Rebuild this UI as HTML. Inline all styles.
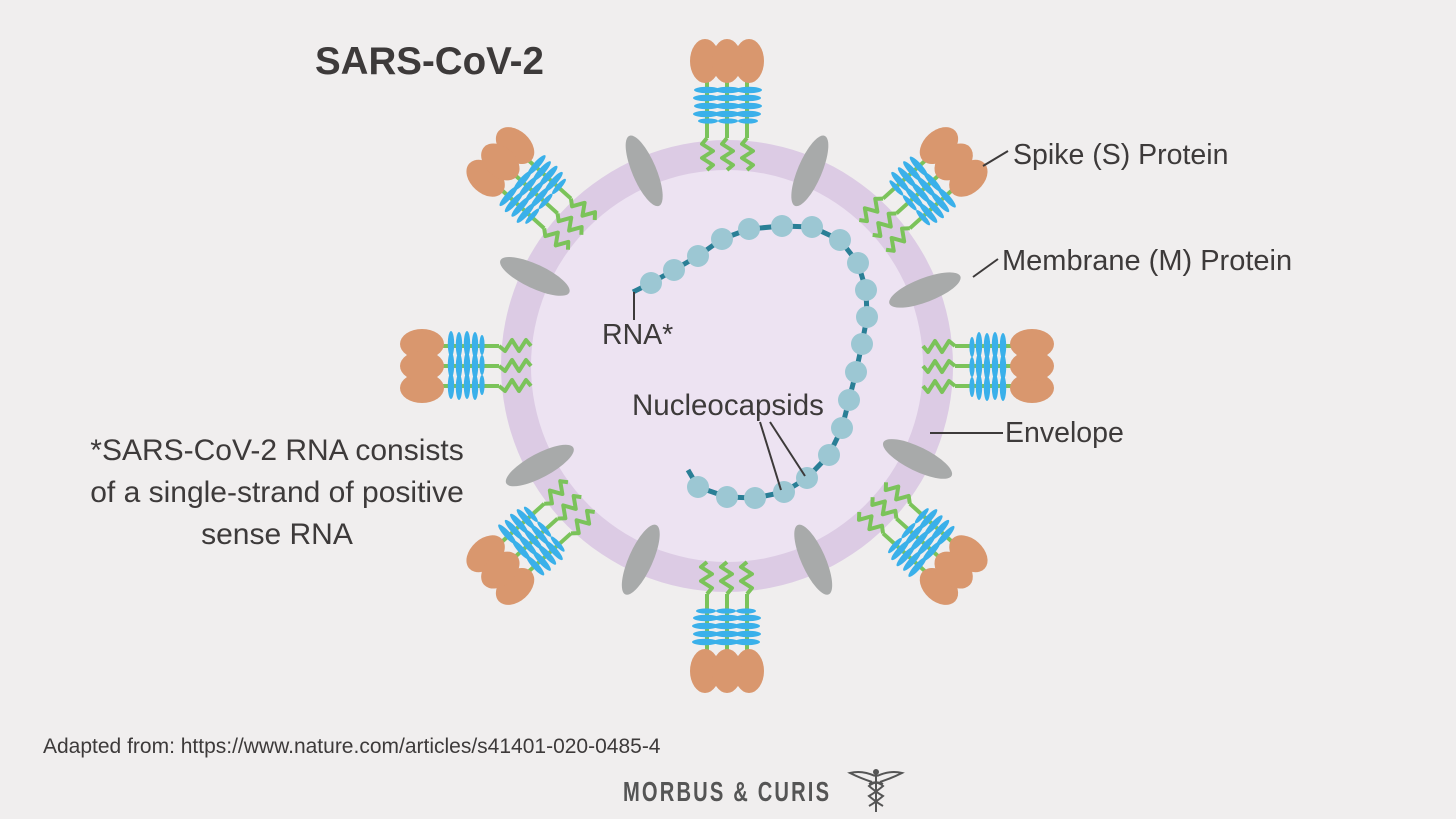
<!DOCTYPE html>
<html><head><meta charset="utf-8"><style>
html,body{margin:0;padding:0;background:#f0eeee;}
svg{display:block;}
text{font-family:"Liberation Sans",sans-serif;fill:#3d3a3a;}
</style></head><body>
<svg width="1456" height="819" viewBox="0 0 1456 819" xmlns="http://www.w3.org/2000/svg">
<rect width="1456" height="819" fill="#f0eeee"/>
<defs>
<g id="spike">
  <g fill="none" stroke="#7bc35a" stroke-width="4" stroke-linejoin="round">
    <polyline points="-20,-196 -14,-201 -25,-208 -14,-215 -25,-222 -20,-228"/>
    <polyline points="0,-196 6,-201 -5,-208 6,-215 -5,-222 0,-228"/>
    <polyline points="20,-196 26,-201 15,-208 26,-215 15,-222 20,-228"/>
    <line x1="-20" y1="-228" x2="-20" y2="-288"/>
    <line x1="0" y1="-228" x2="0" y2="-288"/>
    <line x1="20" y1="-228" x2="20" y2="-288"/>
  </g>
  <g fill="#3ab0ea">
    <ellipse cx="-20" cy="-276" rx="13" ry="3.2"/><ellipse cx="1" cy="-276" rx="13" ry="3.2"/><ellipse cx="22" cy="-276" rx="13" ry="3.2"/>
    <ellipse cx="-21" cy="-268" rx="13" ry="3.2"/><ellipse cx="0" cy="-268" rx="13" ry="3.2"/><ellipse cx="21" cy="-268" rx="13" ry="3.2"/>
    <ellipse cx="-20" cy="-260" rx="13" ry="3.2"/><ellipse cx="1" cy="-260" rx="13" ry="3.2"/><ellipse cx="22" cy="-260" rx="13" ry="3.2"/>
    <ellipse cx="-21" cy="-252" rx="13" ry="3.2"/><ellipse cx="0" cy="-252" rx="13" ry="3.2"/><ellipse cx="21" cy="-252" rx="13" ry="3.2"/>
    <ellipse cx="-19" cy="-245" rx="10" ry="2.6"/><ellipse cx="1" cy="-245" rx="10" ry="2.6"/><ellipse cx="21" cy="-245" rx="10" ry="2.6"/>
  </g>
  <g fill="#d9976e">
    <ellipse cx="-22" cy="-305" rx="15" ry="22"/>
    <ellipse cx="22" cy="-305" rx="15" ry="22"/>
    <ellipse cx="0" cy="-305" rx="15" ry="22"/>
  </g>
</g>
<ellipse id="mem" cx="0" cy="-212" rx="12" ry="38" fill="#a8aaaa"/>
</defs>

<circle cx="727" cy="366" r="226" fill="#dccbe4"/>
<circle cx="727" cy="366" r="196" fill="#ede3f2"/>

<g transform="translate(727 366)">
  <use href="#spike" transform="rotate(0)"/>
  <use href="#spike" transform="rotate(48)"/>
  <use href="#spike" transform="rotate(90)"/>
  <use href="#spike" transform="rotate(132)"/>
  <use href="#spike" transform="rotate(180)"/>
  <use href="#spike" transform="rotate(228)"/>
  <use href="#spike" transform="rotate(270)"/>
  <use href="#spike" transform="rotate(312)"/>
  <use href="#mem" transform="rotate(-23)"/>
  <use href="#mem" transform="rotate(23)"/>
  <use href="#mem" transform="rotate(69)"/>
  <use href="#mem" transform="rotate(-65)"/>
  <use href="#mem" transform="rotate(116)"/>
  <use href="#mem" transform="rotate(-118)"/>
  <use href="#mem" transform="rotate(156)"/>
  <use href="#mem" transform="rotate(-156)"/>
</g>

<!-- RNA -->
<polyline fill="none" stroke="#2a7f96" stroke-width="5" stroke-linejoin="round" points="633,292 651,283 674,270 698,256 722,239 749,229 782,226 812,227 840,240 858,263 866,290 867,317 862,344 856,372 849,400 842,428 829,455 807,478 784,492 755,498 727,497 698,487 688,470"/>
<g fill="#9cc7d3">
<circle cx="651" cy="283" r="11"/><circle cx="674" cy="270" r="11"/><circle cx="698" cy="256" r="11"/><circle cx="722" cy="239" r="11"/><circle cx="749" cy="229" r="11"/><circle cx="782" cy="226" r="11"/><circle cx="812" cy="227" r="11"/><circle cx="840" cy="240" r="11"/><circle cx="858" cy="263" r="11"/><circle cx="866" cy="290" r="11"/><circle cx="867" cy="317" r="11"/><circle cx="862" cy="344" r="11"/><circle cx="856" cy="372" r="11"/><circle cx="849" cy="400" r="11"/><circle cx="842" cy="428" r="11"/><circle cx="829" cy="455" r="11"/><circle cx="807" cy="478" r="11"/><circle cx="784" cy="492" r="11"/><circle cx="755" cy="498" r="11"/><circle cx="727" cy="497" r="11"/><circle cx="698" cy="487" r="11"/>
</g>

<!-- leader lines -->
<g stroke="#3d3a3a" stroke-width="2" fill="none">
<line x1="983" y1="166" x2="1008" y2="151"/>
<line x1="973" y1="277" x2="998" y2="259"/>
<line x1="930" y1="433" x2="1003" y2="433"/>
<line x1="634" y1="292" x2="634" y2="320"/>
<line x1="760" y1="422" x2="781" y2="490"/>
<line x1="770" y1="422" x2="805" y2="476"/>
</g>

<text x="315" y="74" font-size="38.5" font-weight="bold">SARS-CoV-2</text>
<text x="1013" y="164" font-size="28.5">Spike (S) Protein</text>
<text x="1002" y="270" font-size="29">Membrane (M) Protein</text>
<text x="1005" y="442" font-size="28.5">Envelope</text>
<text x="602" y="344" font-size="28.5">RNA*</text>
<text x="632" y="415" font-size="29.5">Nucleocapsids</text>
<g font-size="30" text-anchor="middle">
<text x="277" y="460">*SARS-CoV-2 RNA consists</text>
<text x="277" y="502">of a single-strand of positive</text>
<text x="277" y="544">sense RNA</text>
</g>
<text x="43" y="753" font-size="21">Adapted from: https://www.nature.com/articles/s41401-020-0485-4</text>
<text x="623" y="801" font-size="28" font-weight="bold" style="fill:#555" transform="translate(623 801) scale(0.72 1) translate(-623 -801)" letter-spacing="3">MORBUS &amp; CURIS</text>
<!-- caduceus -->
<g stroke="#555" stroke-width="2" fill="none">
<path d="M875 776 Q862 770 850 773 Q860 778 872 782"/>
<path d="M877 776 Q890 770 902 773 Q892 778 880 782"/>
<line x1="876" y1="772" x2="876" y2="812"/>
<path d="M869 784 Q876 780 883 786 Q876 792 869 796 Q876 802 883 806"/>
<path d="M883 784 Q876 780 869 786 Q876 792 883 796 Q876 802 869 806"/>
</g>
<circle cx="876" cy="772" r="3" fill="#555"/>
</svg>
</body></html>
